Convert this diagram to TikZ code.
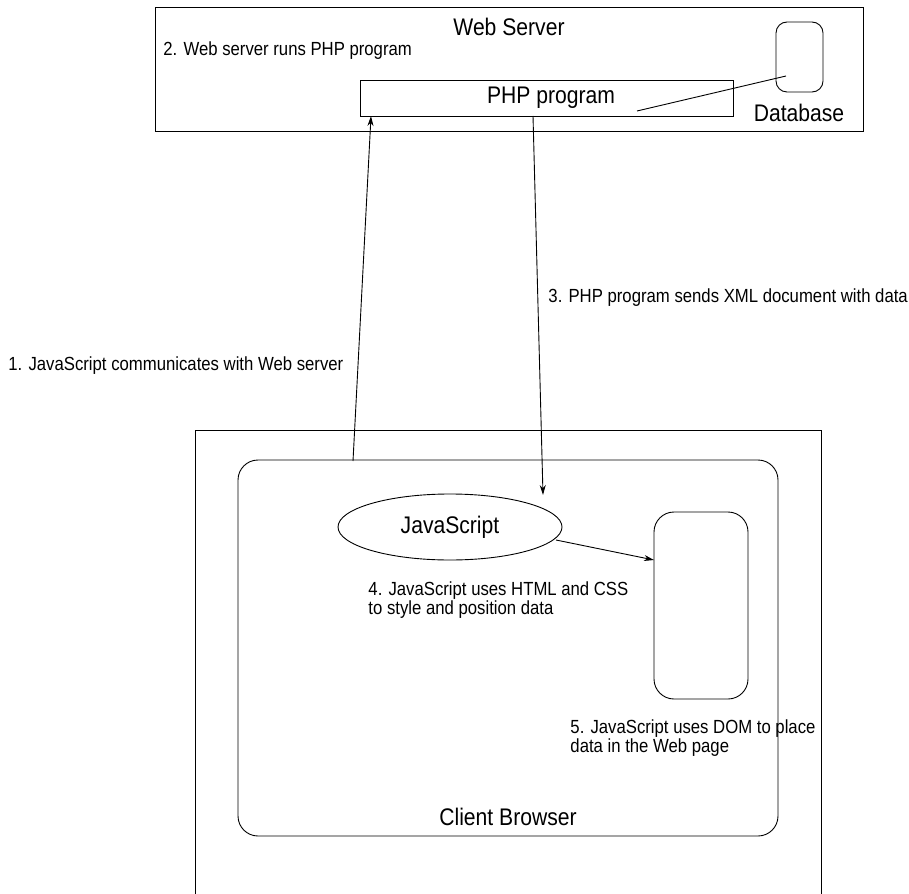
\documentclass[tikz,border=0pt]{standalone}
\usepackage{fontspec}
\setmainfont{Liberation Sans}[FakeStretch=0.88]
\usetikzlibrary{shapes.geometric,arrows.meta}
\begin{document}
\begin{tikzpicture}[x=1pt,y=-1pt,
  line width=0.9pt,
  box/.style={draw,rectangle,inner sep=0pt},
  rbox/.style={draw,rectangle,rounded corners=#1,inner sep=0pt},
  bigtxt/.style={font=\fontsize{24}{27}\selectfont,inner sep=0pt},
  captxt/.style={font=\fontsize{19}{19.5}\selectfont,inner sep=0pt,align=left},
  arr/.style={-{Stealth[length=10pt,width=6pt]}}]
\clip (0,0) rectangle (909,893);
\fill[white] (0,0) rectangle (909,893);
% Web server
\node[box,minimum width=708pt,minimum height=124pt] (server) at (509,69) {};
\node[bigtxt] (servertitle) at (509,27) {Web Server};
\node[captxt,anchor=west] (step2) at (163,51) {2. Web server runs PHP program};
\node[box,minimum width=373pt,minimum height=36pt] (php) at (546.5,98) {};
\node[bigtxt] (phptext) at (551,98) {PHP program};
\node[rbox=11pt,minimum width=47pt,minimum height=70pt] (db) at (799.5,57) {};
\node[bigtxt] (dbtext) at (799,113) {Database};
\coordinate (phpdbA) at (637,111);
\coordinate (phpdbB) at (786,76);
\draw (phpdbA) -- (phpdbB);
% Client browser
\draw (195,900) -- (195,430) -- (821,430) -- (821,900);
\node[rbox=20pt,minimum width=540pt,minimum height=376pt] (inner) at (508,648) {};
\node[bigtxt] (clienttext) at (508,817) {Client Browser};
\node[draw,ellipse,minimum width=224pt,minimum height=66pt,inner sep=0pt] (js) at (450,527) {};
\node[bigtxt] (jstext) at (450,527) {JavaScript};
\node[rbox=20pt,minimum width=94pt,minimum height=187pt] (dom) at (701,605.5) {};
\node[captxt,anchor=north west] (step4) at (368,581) {4. JavaScript uses HTML and CSS\\to style and position data};
\node[captxt,anchor=north west] (step5) at (570,719) {5. JavaScript uses DOM to place\\data in the Web page};
% connectors
\coordinate (a1s) at (353,461);
\coordinate (a1e) at (371,116);
\draw[arr] (a1s) -- (a1e);
\coordinate (a3s) at (533,116);
\coordinate (a3e) at (543,495);
\draw[arr] (a3s) -- (a3e);
\coordinate (a4s) at (556,540);
\coordinate (a4e) at (654,560);
\draw[arr] (a4s) -- (a4e);
\node[captxt,anchor=west] (step1) at (8,366) {1. JavaScript communicates with Web server};
\node[captxt,anchor=west] (step3) at (548,298) {3. PHP program sends XML document with data};
\end{tikzpicture}
\end{document}
